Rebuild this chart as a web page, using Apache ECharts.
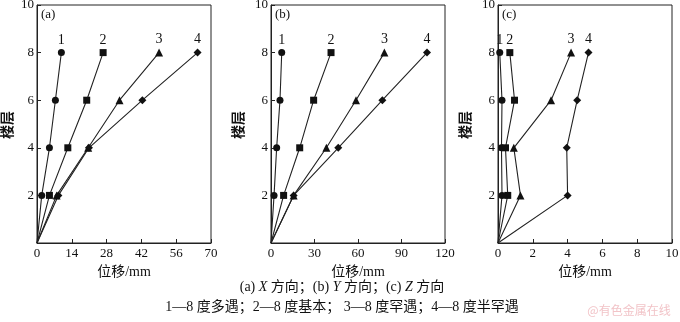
<!DOCTYPE html>
<html>
<head>
<meta charset="utf-8">
<script src="https://cdn.jsdelivr.net/npm/echarts@6/dist/echarts.min.js"></script>
<style>
  html, body { margin: 0; padding: 0; background: #fff; }
  #chart { width: 680px; height: 322px; }
</style>
</head>
<body>
<div id="chart"></div>
<script>
// Storey levels shared by all three panels
const floors = [0, 2, 4, 6, 8];

// Storey displacement (mm), X direction
const xDir1 = [0, 1.9, 5.0, 7.4, 9.8];
const xDir2 = [0, 5.0, 12.4, 20.0, 26.6];
const xDir3 = [0, 7.9, 20.6, 33.2, 49.1];
const xDir4 = [0, 8.6, 20.9, 42.4, 64.6];

// Storey displacement (mm), Y direction
const yDir1 = [0, 2.1, 3.9, 6.2, 7.4];
const yDir2 = [0, 8.7, 19.8, 29.4, 41.4];
const yDir3 = [0, 15.6, 38.2, 58.6, 78.2];
const yDir4 = [0, 15.6, 46.4, 76.8, 107.6];

// Storey displacement (mm), Z direction
const zDir1 = [0, 0.23, 0.2, 0.23, 0.1];
const zDir2 = [0, 0.56, 0.43, 0.95, 0.68];
const zDir3 = [0, 1.29, 0.91, 3.05, 4.2];
const zDir4 = [0, 4.0, 3.95, 4.55, 5.2];

// Axis ranges per panel
const xMax = [70, 120, 10];
const xStep = [14, 30, 2];
const panelTags = ['(a)', '(b)', '(c)'];
const curveNames = ['1', '2', '3', '4'];
const markers = ['circle', 'rect', 'triangle', 'diamond'];
const markerSizes = [7, 7, 8, 8];

const serif = '"Liberation Serif", "Times New Roman", "Noto Sans CJK SC", serif';
const cjk = '"Noto Sans CJK SC", sans-serif';

const panels = [
  [xDir1, xDir2, xDir3, xDir4],
  [yDir1, yDir2, yDir3, yDir4],
  [zDir1, zDir2, zDir3, zDir4]
];
const gridLeft = [37, 271, 498];
// Horizontal centre of each vertical "楼层" title
const yTitleX = [7, 238, 465];

const grids = [], xAxes = [], yAxes = [], series = [], graphics = [];

panels.forEach((curves, p) => {
  grids.push({
    left: gridLeft[p], top: 5, width: 174, height: 238,
    containLabel: false, outerBoundsMode: 'none',
    show: true, borderColor: '#222', borderWidth: 1, backgroundColor: 'transparent'
  });
  xAxes.push({
    gridIndex: p, type: 'value', min: 0, max: xMax[p], interval: xStep[p],
    name: '位移/mm', nameLocation: 'middle', nameGap: 19,
    nameTextStyle: { fontFamily: serif, fontSize: 14, color: '#111' },
    axisLine: { lineStyle: { color: '#222', width: 1 } },
    axisTick: { inside: true, length: 4, lineStyle: { color: '#222' } },
    axisLabel: { fontFamily: serif, fontSize: 13, color: '#111', margin: 4 },
    splitLine: { show: false }
  });
  yAxes.push({
    gridIndex: p, type: 'value', min: 0, max: 10, interval: 2,
    axisLine: { lineStyle: { color: '#222', width: 1 } },
    axisTick: { inside: true, length: 4, lineStyle: { color: '#222' } },
    axisLabel: {
      fontFamily: serif, fontSize: 13, color: '#111', margin: 3,
      formatter: v => (v === 0 ? '' : String(v))
    },
    splitLine: { show: false }
  });
  curves.forEach((vals, k) => {
    const data = floors.map((f, i) => {
      const item = { value: [vals[i], f] };
      if (i === 0) item.symbol = 'none';
      if (i === floors.length - 1) {
        item.label = {
          show: true, position: 'top', distance: 2,
          formatter: curveNames[k],
          fontFamily: serif, fontSize: 14, color: '#111'
        };
      }
      return item;
    });
    series.push({
      type: 'line', xAxisIndex: p, yAxisIndex: p,
      data: data,
      symbol: markers[k], symbolSize: markerSizes[k],
      itemStyle: { color: '#111' },
      lineStyle: { color: '#222', width: 1.1 },
      emphasis: { disabled: true },
      animation: false
    });
  });
  graphics.push({
    type: 'text', left: gridLeft[p] + 4, top: 8,
    style: { text: panelTags[p], font: '13px ' + serif, fill: '#111' }
  });
  // Vertical storey title, reading bottom to top
  graphics.push({
    type: 'text', x: yTitleX[p], y: 125, rotation: Math.PI / 2,
    style: {
      text: '楼层', font: 'bold 14px ' + cjk, fill: '#111',
      align: 'center', verticalAlign: 'middle'
    }
  });
});

// Captions below the panels
graphics.push({
  type: 'text', x: 342, y: 287,
  style: {
    text: '(a) {i|X} 方向；(b) {i|Y} 方向；(c) {i|Z} 方向',
    font: '14px ' + serif, fill: '#111', align: 'center', verticalAlign: 'middle',
    rich: { i: { fontStyle: 'italic', fontFamily: serif, fontSize: 14 } }
  }
});
graphics.push({
  type: 'text', x: 342, y: 307,
  style: {
    text: '1—8 度多遇；2—8 度基本； 3—8 度罕遇；4—8 度半罕遇',
    font: '14px ' + serif, fill: '#111', align: 'center', verticalAlign: 'middle'
  }
});
graphics.push({
  type: 'text', x: 629, y: 310,
  style: {
    text: '@有色金属在线',
    font: '12px ' + cjk, fill: '#f2c4c8', align: 'center', verticalAlign: 'middle'
  }
});

const chart = echarts.init(document.getElementById('chart'), null, { renderer: 'canvas' });
chart.setOption({
  backgroundColor: '#fff',
  animation: false,
  grid: grids,
  xAxis: xAxes,
  yAxis: yAxes,
  series: series,
  graphic: graphics
});
</script>
</body>
</html>
